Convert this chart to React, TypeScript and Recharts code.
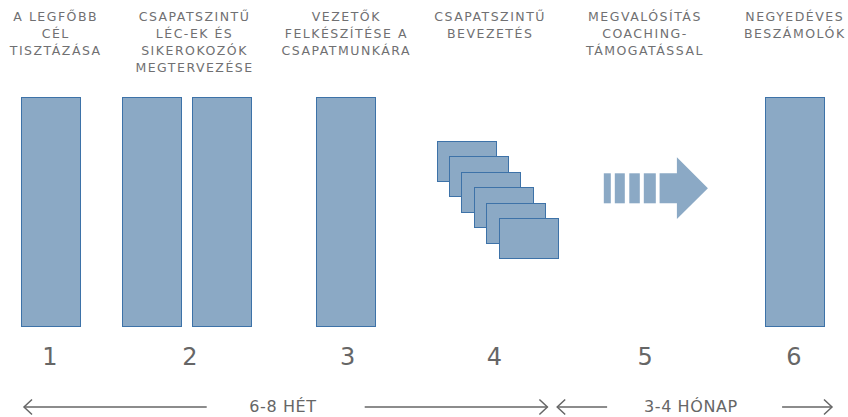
import React from 'react';
import { ComposedChart, Bar, XAxis, YAxis, ReferenceLine } from 'recharts';

// ---------- data ----------
const stepNumbers = [1, 2, 3, 4, 5, 6];
const stepTitles = [
  ['A LEGFŐBB', 'CÉL', 'TISZTÁZÁSA'],
  ['CSAPATSZINTŰ', 'LÉC-EK ÉS', 'SIKEROKOZÓK', 'MEGTERVEZÉSE'],
  ['VEZETŐK', 'FELKÉSZÍTÉSE A', 'CSAPATMUNKÁRA'],
  ['CSAPATSZINTŰ', 'BEVEZETÉS'],
  ['MEGVALÓSÍTÁS', 'COACHING-', 'TÁMOGATÁSSAL'],
  ['NEGYEDÉVES', 'BESZÁMOLÓK'],
];
const stepKinds = ['bar', 'pair', 'bar', 'cards', 'arrow', 'bar'];
const stepHeights = [100, 100, 100, 100, 100, 100];
const durationLabels = ['6-8 HÉT', '3-4 HÓNAP'];
const durationFrom = [1, 5];
const durationTo = [4, 6];

const data = stepNumbers.map((s, i) => ({
  step: s,
  kind: stepKinds[i],
  height: stepHeights[i],
}));

// ---------- layout / style ----------
const W = 848;
const H = 417;
const PLOT_TOP = 97;
const PLOT_BOTTOM = 327;
const AXIS_H = 30;
const X_DOMAIN = [0.66398, 6.3629];
const FONT = '"DejaVu Sans", "Noto Sans", sans-serif';
const TEXT = '#707072';
const FILL = '#8ba9c5';
const EDGE = '#3d72a8';
const LINE = '#666666';
const TITLE_LS = 1.5;
const SPAN_LS = 0.6;

const MARK_NUDGE: Record<number, number> = { 1: 1, 2: -11.8, 3: -1.2, 4: 0, 5: 0, 6: 1.5 };
const NUM_NUDGE: Record<number, number> = { 1: 0, 2: -9, 3: 0, 4: -2, 5: 0, 6: 0 };
const TITLE_NUDGE: Record<number, number> = { 1: 5, 2: -5, 3: -2, 4: -7, 5: -1, 6: 0 };
const ARROW_BLOCKS = [[-41, -34], [-30, -20], [-15.5, -5], [-1, 11]];
const SPAN_PADS = [[26, 51], [88, 38]];
const SPAN_GAPS = [79, 87.5];
const SPAN_TEXT_SHIFT = [-3, -4];
const DURATION_Y = -34.78;

const px = (v: number) => Math.round(v) + 0.5;

const StepShape = (props: any) => {
  const { x, y, width, payload } = props;
  const step = payload.step;
  const cx = x + width / 2 + MARK_NUDGE[step];
  const kind = payload.kind;
  const h = props.height;
  if (kind === 'bar') {
    return <rect x={px(cx - 30)} y={px(y)} width={59} height={Math.round(h) - 1} fill={FILL} stroke={EDGE} strokeWidth={1} />;
  }
  if (kind === 'pair') {
    return (
      <g>
        <rect x={px(cx - 65)} y={px(y)} width={59} height={Math.round(h) - 1} fill={FILL} stroke={EDGE} strokeWidth={1} />
        <rect x={px(cx + 5)} y={px(y)} width={59} height={Math.round(h) - 1} fill={FILL} stroke={EDGE} strokeWidth={1} />
      </g>
    );
  }
  if (kind === 'cards') {
    const cards = [0, 1, 2, 3, 4, 5];
    return (
      <g>
        {cards.map((i) => (
          <rect key={i} x={px(cx - 59.4 + i * 12.4)} y={px(y + 44 + i * 15.4)} width={59} height={40} fill={FILL} stroke={EDGE} strokeWidth={1} />
        ))}
      </g>
    );
  }
  if (kind === 'arrow') {
    const top = y + 76.3;
    const bot = y + 106.3;
    const d = `M${cx + 14.8},${top} L${cx + 32.1},${top} L${cx + 32.1},${y + 60.3} L${cx + 63.1},${y + 91.3} L${cx + 32.1},${y + 122} L${cx + 32.1},${bot} L${cx + 14.8},${bot} Z`;
    return (
      <g>
        {ARROW_BLOCKS.map(([a, b], i) => (
          <rect key={i} x={cx + a} y={top} width={b - a} height={bot - top} fill={FILL} />
        ))}
        <path d={d} fill={FILL} />
      </g>
    );
  }
  return null;
};

const NumberTick = (props: any) => {
  const { x, y, payload } = props;
  const v = payload.value;
  return (
    <text x={x + NUM_NUDGE[v]} y={y + 38} textAnchor="middle" fontSize={24} fill={LINE} fontFamily={FONT}>
      {v}
    </text>
  );
};

const makeTitleShape = (idx: number) => (props: any) => {
  const { x1, y1, y2 } = props;
  const step = stepNumbers[idx];
  const top = Math.min(y1, y2);
  const cx = x1 + TITLE_NUDGE[step] + TITLE_LS / 2;
  return (
    <g>
      {stepTitles[idx].map((l, i) => (
        <text
          key={i}
          x={cx}
          y={top - 76 + i * 17}
          textAnchor="middle"
          fontSize={12.5}
          letterSpacing={TITLE_LS}
          fill={TEXT}
          fontFamily={FONT}
        >
          {l}
        </text>
      ))}
    </g>
  );
};

const chevron = (tipX: number, yy: number, dir: number) =>
  `M${tipX - dir * 8},${yy - 7.5} L${tipX},${yy} L${tipX - dir * 8},${yy + 7.5}`;

const makeSpanShape = (idx: number) => (props: any) => {
  const { x1, y1, x2 } = props;
  const a = x1 - SPAN_PADS[idx][0];
  const b = x2 + SPAN_PADS[idx][1];
  const mid = (a + b) / 2;
  const g = SPAN_GAPS[idx];
  const yy = y1;
  return (
    <g>
      <line x1={a} y1={yy} x2={mid - g} y2={yy} stroke={LINE} strokeWidth={1.5} />
      <line x1={mid + g} y1={yy} x2={b} y2={yy} stroke={LINE} strokeWidth={1.5} />
      <path d={chevron(a, yy, -1)} fill="none" stroke={LINE} strokeWidth={1.5} />
      <path d={chevron(b, yy, 1)} fill="none" stroke={LINE} strokeWidth={1.5} />
      <text
        x={mid + SPAN_TEXT_SHIFT[idx] + SPAN_LS / 2}
        y={yy + 5.5}
        textAnchor="middle"
        fontSize={16}
        letterSpacing={SPAN_LS}
        fill={LINE}
        fontFamily={FONT}
      >
        {durationLabels[idx]}
      </text>
    </g>
  );
};

export default function App() {
  return (
    <div style={{ position: 'absolute', left: 0, top: 0, width: W, height: H, background: '#fff' }}>
      <ComposedChart
        width={W}
        height={H}
        data={data}
        margin={{ top: PLOT_TOP, bottom: H - PLOT_BOTTOM - AXIS_H, left: 0, right: 0 }}
      >
        <XAxis
          dataKey="step"
          type="number"
          domain={X_DOMAIN}
          allowDataOverflow
          ticks={stepNumbers}
          interval={0}
          axisLine={false}
          tickLine={false}
          tickSize={0}
          tickMargin={0}
          height={AXIS_H}
          tick={<NumberTick />}
        />
        <YAxis type="number" domain={[0, 100]} allowDataOverflow hide />
        <Bar dataKey="height" barSize={60} isAnimationActive={false} shape={<StepShape />} />
        {stepNumbers.map((s, i) => (
          <ReferenceLine key={'t' + s} x={s} ifOverflow="visible" shape={makeTitleShape(i)} />
        ))}
        {durationLabels.map((lab, i) => (
          <ReferenceLine
            key={lab}
            ifOverflow="visible"
            segment={[
              { x: durationFrom[i], y: DURATION_Y },
              { x: durationTo[i], y: DURATION_Y },
            ]}
            shape={makeSpanShape(i)}
          />
        ))}
      </ComposedChart>
    </div>
  );
}
